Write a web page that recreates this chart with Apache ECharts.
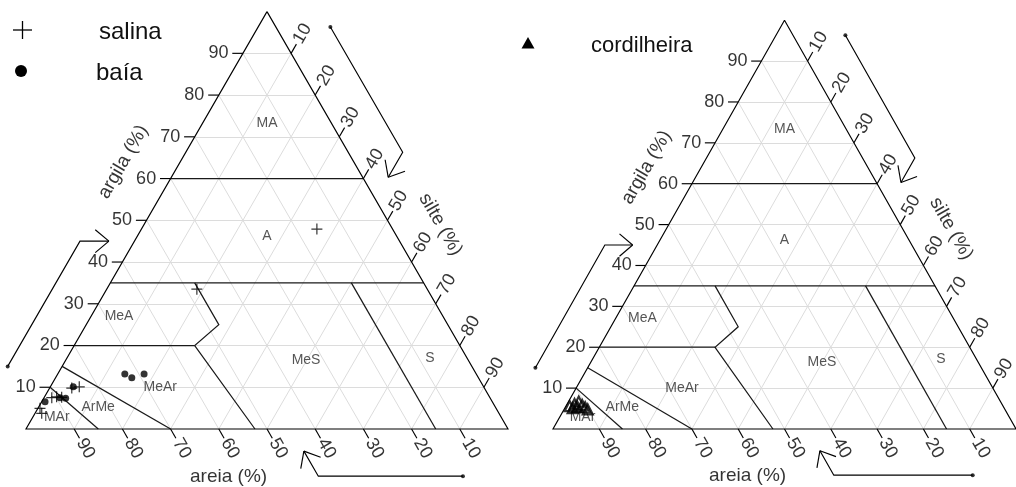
<!DOCTYPE html>
<html><head><meta charset="utf-8">
<script src="https://cdn.jsdelivr.net/npm/echarts@6/dist/echarts.min.js"></script>
<style>html,body{margin:0;padding:0;background:#fff}#c{width:1016px;height:487px}</style>
</head><body><div id="c"></div>
<script>
// ---- data ----
const tickValues = [10,20,30,40,50,60,70,80,90];
const axisTitles = ['argila (%)','silte (%)','areia (%)'];
// class boundary polylines, points as [clay, silt]
const boundary60 = [[60,0],[60,40]];
const boundary35 = [[35,0],[35,65]];
const boundarySilt = [[35,50],[0,85]];
const boundaryMeA = [[35,17.5],[25,27.5],[20,25],[0,47.5]];
const boundary20 = [[20,0],[20,25]];
const boundaryArMe = [[15,0],[0,30]];
const boundaryMAr = [[10,0],[0,15]];
const classNames = ['MA','A','MeA','MeS','S','MeAr','ArMe','MAr'];
const classClay  = [73.3,46.2,27.1,16.4,17.0,10.1,5.35,2.95];
const classSilt  = [13.35,26.9,5.75,49.9,75.3,22.8,12.3,4.9];
// left panel: salina (+) and baía (•)
const salinaClay = [47.9,33.5,10.1,7.5,7.7,7.6,4.95,3.76,9.8];
const salinaSilt = [36.4,18.7,6.0,1.6,2.5,3.6,0.43,1.38,4.6];
const baiaClay = [13.2,12.3,13.2,10.1,6.5,7.5,7.35];
const baiaSilt = [13.9,15.8,17.9,4.75,0.7,3.3,4.55];
// right panel: cordilheira (triangles)
const cordClay = [5.6,6.1,6.7,5.9,5.3,4.8,5.1,5.4];
const cordSilt = [0.8,1.6,2.2,3.35,4.3,5.1,1.7,2.6];

// ---- helpers ----
const H = Math.sqrt(3)/2;
function xy(c, s){ return [s + c/2, c*H]; }
const TL = 2.2;

function panelSeries(t, withData){
  const ax = {xAxisIndex:t, yAxisIndex:t};
  const S = [];
  const gl = [];
  tickValues.forEach(v=>{
    gl.push({coords:[xy(v,0), xy(v,100-v)]});
    gl.push({coords:[xy(0,v), xy(100-v,v)]});
    gl.push({coords:[xy(0,100-v), xy(100-v,0)]});
  });
  S.push(Object.assign({type:'lines', coordinateSystem:'cartesian2d', silent:true, z:1,
    lineStyle:{color:'#dcdcdc', width:1, opacity:1}, data:gl}, ax));
  const bl = [boundary60,boundary35,boundarySilt,boundaryMeA,boundary20,boundaryArMe,boundaryMAr]
    .map(p=>({coords:p.map(q=>xy(q[0],q[1]))}));
  S.push(Object.assign({type:'lines', coordinateSystem:'cartesian2d', polyline:true, silent:true, z:3,
    lineStyle:{color:'#1a1a1a', width:1.25, opacity:1}, data:bl}, ax));
  const ol = [{coords:[xy(100,0), xy(0,100), xy(0,0), xy(100,0)]}];
  tickValues.forEach(v=>{
    ol.push({coords:[xy(v,0), xy(v,-TL)]});
    ol.push({coords:[xy(100-v,v), xy(100-v+TL,v)]});
    ol.push({coords:[xy(0,100-v), xy(-TL,100-v+TL)]});
  });
  const arrows = [
    [[15,-11.3],[45,-11.3],[45,-5.3]],
    [[96.3,15],[66.3,45],[60.3,45]],
    [[-11.3,96.3],[-11.3,66.3],[-5.3,60.3]]
  ];
  const dots = [];
  arrows.forEach(a=>{
    const p = a.map(q=>xy(q[0],q[1]));
    ol.push({coords:p});
    const tip = p[2], cor = p[1];
    const dx = tip[0]-cor[0], dy = tip[1]-cor[1], L = Math.hypot(dx,dy);
    const ux = dx/L, uy = dy/L, hl = 3.7;
    [40,-40].forEach(deg=>{
      const r = deg*Math.PI/180;
      const wx = ux*Math.cos(r) - uy*Math.sin(r), wy = ux*Math.sin(r) + uy*Math.cos(r);
      ol.push({coords:[tip, [tip[0]-hl*wx, tip[1]-hl*wy]]});
    });
    dots.push(p[0]);
  });
  S.push(Object.assign({type:'lines', coordinateSystem:'cartesian2d', polyline:true, silent:true, z:4, clip:false,
    lineStyle:{color:'#000', width:1.15, opacity:1}, data:ol}, ax));
  S.push(Object.assign({type:'scatter', silent:true, clip:false, symbol:'circle', symbolSize:4, z:4,
    itemStyle:{color:'#000'}, data:dots}, ax));
  const font = {fontFamily:'Liberation Sans, Arial, sans-serif', color:'#000'};
  const lab = [];
  tickValues.forEach(v=>{
    lab.push({name:String(v), value:xy(v,-3.0), label:{align:'right', verticalAlign:'middle', fontSize:18}});
    lab.push({name:String(v), value:xy(100-v+2.6,v), label:{align:'left', verticalAlign:'middle', rotate:60, fontSize:18}});
    lab.push({name:String(v), value:xy(-2.6,100-v+2.6), label:{align:'left', verticalAlign:'middle', rotate:-60, fontSize:18}});
  });
  lab.push({name:axisTitles[0], value:xy(64,-11.8), label:{align:'center', verticalAlign:'middle', rotate:60, fontSize:19}});
  lab.push({name:axisTitles[1], value:xy(49,61.5), label:{align:'center', verticalAlign:'middle', rotate:-60, fontSize:19}});
  lab.push({name:axisTitles[2], value:xy(-11.55,47.8), label:{align:'center', verticalAlign:'middle', fontSize:19}});
  classNames.forEach((n,i)=>{
    lab.push({name:n, value:xy(classClay[i],classSilt[i]), label:{align:'center', verticalAlign:'middle', fontSize:14, color:'#2a2a2a'}});
  });
  S.push(Object.assign({type:'scatter', silent:true, clip:false, symbolSize:0, z:5,
    label:Object.assign({show:true, position:'inside', formatter:'{b}'}, font), data:lab}, ax));
  if (withData === 0){
    S.push(Object.assign({name:'salina', type:'scatter', clip:false, z:6,
      symbol:'path://M0,5L10,5M5,0L5,10', symbolSize:11,
      itemStyle:{color:'none', borderColor:'#000', borderWidth:1.2},
      data:salinaClay.map((c,i)=>xy(c,salinaSilt[i]))}, ax));
    S.push(Object.assign({name:'baía', type:'scatter', clip:false, z:6,
      symbol:'circle', symbolSize:7, itemStyle:{color:'#000'},
      data:baiaClay.map((c,i)=>xy(c,baiaSilt[i]))}, ax));
  } else {
    S.push(Object.assign({name:'cordilheira', type:'scatter', clip:false, z:6,
      symbol:'triangle', symbolSize:10,
      itemStyle:{color:'rgba(255,255,255,0)', borderColor:'#000', borderWidth:2.2},
      data:cordClay.map((c,i)=>xy(c,cordSilt[i]))}, ax));
  }
  return S;
}

const chart = echarts.init(document.getElementById('c'), null, {renderer:'canvas'});
const legendFont = 'Liberation Sans, Arial, sans-serif';
chart.setOption({
  animation:false,
  backgroundColor:'#fff',
  grid:[
    {left:26, top:429-417.4, width:482, height:417.4},
    {left:553, top:429-408.8, width:472, height:408.8}
  ],
  xAxis:[
    {gridIndex:0, type:'value', min:0, max:100, show:false},
    {gridIndex:1, type:'value', min:0, max:100, show:false}
  ],
  yAxis:[
    {gridIndex:0, type:'value', min:0, max:100*H, show:false},
    {gridIndex:1, type:'value', min:0, max:100*H, show:false}
  ],
  graphic:[
    {type:'line', shape:{x1:13,y1:30,x2:32,y2:30}, style:{stroke:'#000', lineWidth:1.3}},
    {type:'line', shape:{x1:22.5,y1:21,x2:22.5,y2:39}, style:{stroke:'#000', lineWidth:1.3}},
    {type:'text', x:99, y:32, style:{text:'salina', font:'24px '+legendFont, fill:'#111', verticalAlign:'middle'}},
    {type:'circle', shape:{cx:21, cy:71, r:6}, style:{fill:'#000'}},
    {type:'text', x:96, y:73, style:{text:'baía', font:'24px '+legendFont, fill:'#111', verticalAlign:'middle'}},
    {type:'polygon', shape:{points:[[521.5,48.5],[534.5,48.5],[528,37]]}, style:{fill:'#000'}},
    {type:'text', x:591, y:46, style:{text:'cordilheira', font:'22px '+legendFont, fill:'#111', verticalAlign:'middle'}}
  ],
  series:[].concat(panelSeries(0,0), panelSeries(1,1))
});
</script></body></html>
